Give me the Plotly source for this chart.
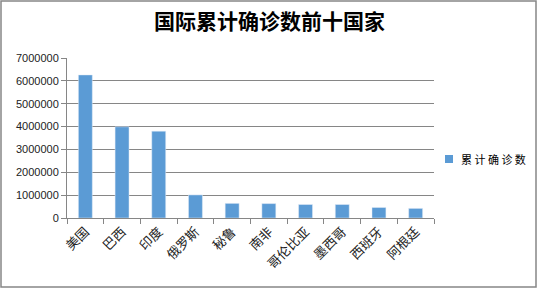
import plotly.graph_objects as go

countries = ["美国", "巴西", "印度", "俄罗斯", "秘鲁", "南非", "哥伦比亚", "墨西哥", "西班牙", "阿根廷"]
cases = [6260000, 3990000, 3800000, 1010000, 640000, 630000, 590000, 590000, 460000, 420000]
y_ticks = [0, 1000000, 2000000, 3000000, 4000000, 5000000, 6000000, 7000000]
series_name = "累计确诊数"

fig = go.Figure()
fig.add_trace(go.Bar(x=countries, y=cases, name=series_name, marker_color="#5B9BD5",
                     showlegend=False))

W, H = 539, 289
ml, mr, mt, mb = 67, 105, 58, 71
pw, ph = W - ml - mr, H - mt - mb

def px(x):
    return (x - ml) / pw

def py(y):
    return (H - mb - y) / ph

fig.update_layout(
    width=W, height=H,
    margin=dict(l=ml, r=mr, t=mt, b=mb, autoexpand=False),
    paper_bgcolor="white", plot_bgcolor="white",
    bargap=0.62,
    font=dict(family="Noto Sans CJK SC, DejaVu Sans", color="#222"),
    title=dict(text="<b>国际累计确诊数前十国家</b>", x=0.5, xanchor="center", y=1 - 22 / H,
               yanchor="middle", font=dict(size=21, color="#000",
                                           family="Noto Sans CJK SC")),
    showlegend=False,
    xaxis=dict(tickangle=-45, tickfont=dict(size=13, color="#222"), ticks="outside",
               tickson="boundaries", ticklen=5, tickcolor="#868686",
               showline=True, linecolor="#868686", linewidth=1, showgrid=False),
    yaxis=dict(range=[0, 7000000], tickvals=y_ticks, ticktext=[str(v) for v in y_ticks],
               tickfont=dict(size=11, color="#222", family="Liberation Sans, Arial"),
               showgrid=True, gridcolor="#868686", gridwidth=1, ticks="outside",
               ticklen=5, tickcolor="#868686", showline=True, linecolor="#868686",
               zeroline=False),
)

# legend (manual)
fig.add_shape(type="rect", xref="paper", yref="paper",
              x0=px(445), x1=px(453), y0=py(163), y1=py(155),
              line=dict(width=0), fillcolor="#5B9BD5")
fig.add_annotation(xref="paper", yref="paper", x=px(459), y=py(159),
                   xanchor="left", yanchor="middle", showarrow=False,
                   text=" ".join(series_name), font=dict(size=11, color="#000"))

fig.add_shape(type="rect", xref="paper", yref="paper",
              x0=px(1), x1=px(536), y0=py(287), y1=py(1),
              line=dict(color="#868686", width=1.5), fillcolor="rgba(0,0,0,0)")

fig.write_html("out.html")
